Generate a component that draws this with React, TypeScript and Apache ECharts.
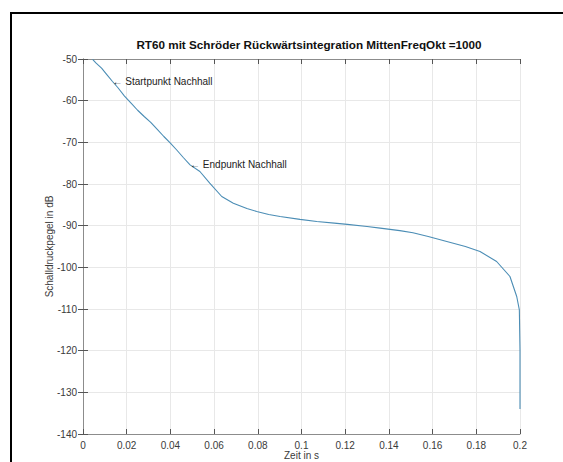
import React, { useEffect, useRef } from "react";
import * as echarts from "echarts";

const timeValues = [
  0.0044, 0.006, 0.0085, 0.011, 0.0135, 0.016, 0.019, 0.022, 0.025, 0.028, 0.031,
  0.034, 0.037, 0.04, 0.043, 0.046, 0.049, 0.0535, 0.058, 0.0635, 0.0688, 0.075,
  0.0795, 0.085, 0.0902, 0.0993, 0.107, 0.115, 0.121, 0.13, 0.136, 0.145, 0.151,
  0.158, 0.1665, 0.175, 0.1817, 0.1893, 0.1954, 0.1985, 0.1997, 0.2, 0.2,
];
const levelValues = [
  -50.1, -51.0, -52.2, -53.8, -55.4, -56.9, -58.9, -60.6, -62.3, -63.8, -65.2,
  -66.9, -68.6, -70.2, -71.9, -73.7, -75.4, -77.0, -79.8, -83.0, -84.6, -85.9,
  -86.6, -87.3, -87.8, -88.5, -89.0, -89.4, -89.7, -90.2, -90.6, -91.2, -91.7,
  -92.6, -93.8, -95.0, -96.2, -98.6, -102.2, -107.0, -110.2, -120.0, -134.0,
];
const annotationTexts = ["\u2190 Startpunkt Nachhall", "\u2190 Endpunkt Nachhall"];
const annotationPoints = [
  [0.0135, -55.4],
  [0.049, -75.4],
];
const titleText = "RT60 mit Schröder Rückwärtsintegration MittenFreqOkt =1000";
const xName = "Zeit in s";
const yName = "Schalldruckpegel in dB";

export default function App() {
  const ref = useRef<HTMLDivElement>(null);
  useEffect(() => {
    document.body.style.margin = "0";
    if (!ref.current) return;
    const chart = echarts.init(ref.current, null, { renderer: "svg" });
    const font = "'Liberation Sans', Arial, sans-serif";
    const axisLineColor = "#8c8c8c";
    const labelColor = "#3a3a3a";
    const gridColor = "#e8e8e8";
    const baseX = {
      type: "value",
      min: 0,
      max: 0.2,
      interval: 0.02,
      axisLine: { show: true, lineStyle: { color: axisLineColor, width: 1 } },
      axisTick: { show: true, inside: true, length: 5, lineStyle: { color: "#555" } },
    };
    const baseY = {
      type: "value",
      min: -140,
      max: -50,
      interval: 10,
      axisLine: { show: true, lineStyle: { color: axisLineColor, width: 1 } },
      axisTick: { show: true, inside: true, length: 5, lineStyle: { color: "#555" } },
    };
    const data = timeValues.map((t, i) => [t, levelValues[i]]);
    chart.setOption({
      animation: false,
      backgroundColor: "#ffffff",
      title: {
        text: titleText,
        left: 304,
        textAlign: "center",
        top: 33,
        textStyle: { fontFamily: font, fontSize: 11.7, fontWeight: "bold", color: "#111" },
      },
      grid: { left: 83, right: 43, top: 59, bottom: 28, outerBoundsMode: "none", containLabel: false },
      xAxis: [
        {
          ...baseX,
          position: "bottom",
          name: xName,
          nameLocation: "middle",
          nameGap: 16,
          nameMoveOverlap: false,
          nameTextStyle: { fontFamily: font, fontSize: 10, color: labelColor },
          axisLabel: {
            fontFamily: font,
            fontSize: 10,
            color: labelColor,
            margin: 6,
            formatter: (v: number) => String(Number(v.toFixed(2))),
          },
          splitLine: { show: true, lineStyle: { color: gridColor, width: 1 } },
        },
        {
          ...baseX,
          position: "top",
          axisLabel: { show: false },
          splitLine: { show: false },
        },
      ],
      yAxis: [
        {
          ...baseY,
          position: "left",
          name: yName,
          nameLocation: "middle",
          nameGap: 29,
          nameMoveOverlap: false,
          nameTextStyle: { fontFamily: font, fontSize: 10, color: labelColor },
          axisLabel: { fontFamily: font, fontSize: 10, color: labelColor, margin: 6 },
          splitLine: { show: true, lineStyle: { color: gridColor, width: 1 } },
        },
        {
          ...baseY,
          position: "right",
          axisLabel: { show: false },
          splitLine: { show: false },
        },
      ],
      series: [
        {
          type: "line",
          data,
          showSymbol: false,
          symbol: "none",
          lineStyle: { color: "#4b8db5", width: 1.1 },
          clip: true,
          markPoint: {
            symbol: "circle",
            symbolSize: 0,
            data: annotationPoints.map((p, i) => ({
              coord: p,
              label: {
                show: true,
                position: "right",
                distance: 0,
                formatter: annotationTexts[i],
                fontFamily: font,
                fontSize: 10,
                color: "#222",
              },
            })),
          },
        },
      ],
      graphic: [
        {
          type: "rect",
          shape: { x: 11, y: 13, width: 600, height: 500 },
          style: { fill: "none", stroke: "#000", lineWidth: 2 },
          silent: true,
          z: 100,
        },
      ],
    });
    return () => chart.dispose();
  }, []);
  return <div ref={ref} style={{ width: 563, height: 462 }} />;
}
